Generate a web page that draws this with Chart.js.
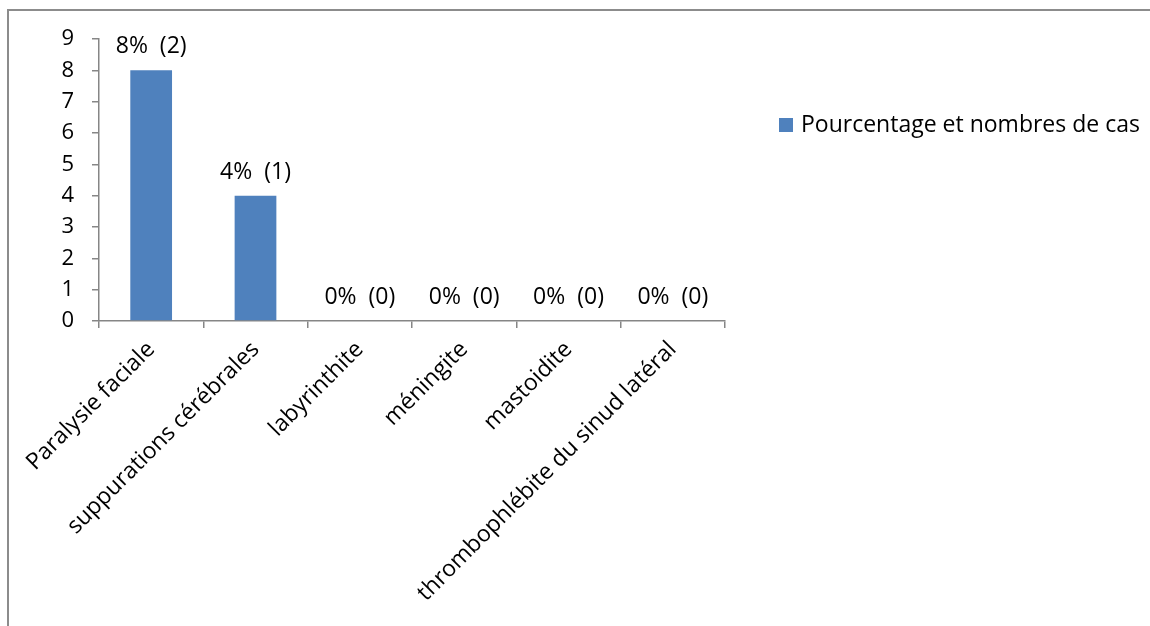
<!DOCTYPE html>
<html>
<head>
<meta charset="utf-8">
<script src="https://cdn.jsdelivr.net/npm/chart.js@4/dist/chart.umd.min.js"></script>
<style>
  html, body { margin: 0; padding: 0; background: #fff; }
  #wrap { position: relative; width: 1150px; height: 626px; overflow: hidden; }
  #frame { position: absolute; left: 7px; top: 9px; width: 1200px; height: 700px;
           border-left: 2px solid #8c8c8c; border-top: 2px solid #8c8c8c; box-sizing: border-box; }
  canvas { position: absolute; left: 0; top: 0; }
</style>
</head>
<body>
<div id="wrap">
  <div id="frame"></div>
  <canvas id="c" width="1150" height="626"></canvas>
</div>
<script>
// Complications: share (%) and number of cases
const categories = [
  'Paralysie faciale',
  'suppurations cérébrales',
  'labyrinthite',
  'méningite',
  'mastoidite',
  'thrombophlébite du sinud latéral'
];
const percentages = [8, 4, 0, 0, 0, 0];
const caseCounts = [2, 1, 0, 0, 0, 0];
const yTicks = [0, 1, 2, 3, 4, 5, 6, 7, 8, 9];
const seriesName = 'Pourcentage et nombres de cas';

const FONT = "'Open Sans', sans-serif";
const AXIS_GRAY = '#868686';
const BAR_BLUE = '#4f81bd';

// Value labels above each bar: "8%  (2)"
const valueLabels = {
  id: 'valueLabels',
  afterDatasetsDraw(chart) {
    const ctx = chart.ctx;
    const meta = chart.getDatasetMeta(0);
    ctx.save();
    ctx.font = '23px ' + FONT;
    ctx.fillStyle = '#000';
    ctx.textAlign = 'center';
    ctx.textBaseline = 'alphabetic';
    meta.data.forEach((bar, i) => {
      const text = percentages[i] + '%  (' + caseCounts[i] + ')';
      ctx.fillText(text, bar.x, bar.y - 17);
    });
    ctx.restore();
  }
};

// Legend on the right side of the plot
const sideLegend = {
  id: 'sideLegend',
  afterDraw(chart) {
    const ctx = chart.ctx;
    const ds = chart.data.datasets[0];
    ctx.save();
    ctx.fillStyle = ds.backgroundColor;
    ctx.fillRect(779, 118, 14, 14);
    ctx.fillStyle = '#000';
    ctx.font = '23px ' + FONT;
    ctx.textAlign = 'left';
    ctx.textBaseline = 'middle';
    ctx.fillText(ds.label, 801, 125);
    ctx.restore();
  }
};

new Chart(document.getElementById('c'), {
  type: 'bar',
  data: {
    labels: categories,
    datasets: [{
      label: seriesName,
      data: percentages,
      backgroundColor: BAR_BLUE,
      categoryPercentage: 1,
      barPercentage: 0.4
    }]
  },
  options: {
    responsive: false,
    animation: false,
    layout: { padding: { left: 8, top: 39, right: 425, bottom: 0 } },
    plugins: { legend: { display: false }, tooltip: { enabled: false } },
    scales: {
      x: {
        grid: { display: true, drawOnChartArea: false, offset: true, color: AXIS_GRAY, tickLength: 7, lineWidth: 1.5 },
        border: { display: true, color: AXIS_GRAY, width: 1.5 },
        ticks: {
          autoSkip: false, minRotation: 45, maxRotation: 45,
          color: '#000', font: { family: FONT, size: 23 }, padding: 8
        },
        afterFit(scale) { scale.height = 305; }
      },
      y: {
        min: 0, max: 9,
        afterBuildTicks(scale) { scale.ticks = yTicks.map(v => ({ value: v })); },
        grid: { display: true, drawOnChartArea: false, color: AXIS_GRAY, tickLength: 7, lineWidth: 1.5 },
        border: { display: true, color: AXIS_GRAY, width: 1.5 },
        ticks: { color: '#000', font: { family: FONT, size: 22 }, padding: 18 },
        afterFit(scale) { scale.width = 91; }
      }
    }
  },
  plugins: [valueLabels, sideLegend]
});
</script>
</body>
</html>
